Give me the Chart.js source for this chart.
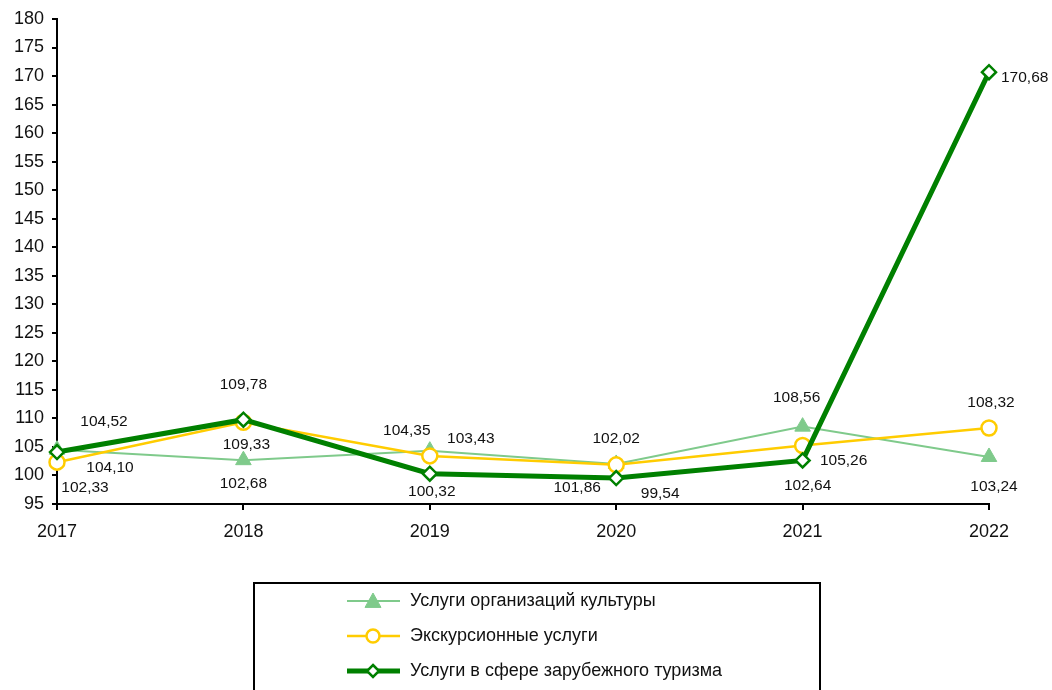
<!DOCTYPE html>
<html>
<head>
<meta charset="utf-8">
<script src="https://cdn.jsdelivr.net/npm/chart.js"></script>
<style>
  html, body { margin: 0; padding: 0; background: #fff; }
  #wrap { width: 1052px; height: 690px; position: relative; }
</style>
</head>
<body>
<div id="wrap"><canvas id="myChart"></canvas></div>
<script>
const years = ["2017", "2018", "2019", "2020", "2021", "2022"];
const cultureValues = [104.52, 102.68, 104.35, 102.02, 108.56, 103.24];
const excursionValues = [102.33, 109.33, 103.43, 101.86, 105.26, 108.32];
const abroadValues = [104.10, 109.78, 100.32, 99.54, 102.64, 170.68];
const seriesNames = [
    "Услуги организаций культуры",
    "Экскурсионные услуги",
    "Услуги в сфере зарубежного туризма"
];

// label offsets from the point, px
const labelShift = [
    [[47, -28], [0, 24], [-23, -20], [0, -25], [-6, -29], [5, 30]],
    [[28, 26], [3, 22], [41, -17], [-39, 23], [41, 15], [2, -25]],
    [[53, 16], [0, -35], [2, 18], [44, 16], [5, 25], [12, 6]]
];

const fmt = v => v.toFixed(2).replace(".", ",");
const FONT = "'Liberation Sans', Arial, sans-serif";

const valueLabels = {
    id: "valueLabels",
    afterDatasetsDraw(chart) {
        const ctx = chart.ctx;
        ctx.save();
        ctx.font = "15.5px " + FONT;
        ctx.fillStyle = "#111";
        ctx.textBaseline = "middle";
        chart.data.datasets.forEach((ds, d) => {
            chart.getDatasetMeta(d).data.forEach((pt, i) => {
                const sh = labelShift[d][i];
                ctx.textAlign = (d === 2 && i === 5) ? "left" : "center";
                ctx.fillText(fmt(ds.data[i]), pt.x + sh[0], pt.y + sh[1]);
            });
        });
        ctx.restore();
    }
};

function drawMarker(ctx, style, x, y, r) {
    if (style === "circle") {
        ctx.arc(x, y, r, 0, Math.PI * 2);
    } else if (style === "triangle") {
        ctx.moveTo(x, y - r);
        ctx.lineTo(x + r, y + r * 0.8);
        ctx.lineTo(x - r, y + r * 0.8);
        ctx.closePath();
    } else {
        ctx.moveTo(x, y - r);
        ctx.lineTo(x + r, y);
        ctx.lineTo(x, y + r);
        ctx.lineTo(x - r, y);
        ctx.closePath();
    }
}

const boxLegend = {
    id: "boxLegend",
    afterDraw(chart) {
        const ctx = chart.ctx;
        ctx.save();
        ctx.strokeStyle = "#000";
        ctx.lineWidth = 2;
        ctx.strokeRect(254, 583, 566, 120);
        ctx.font = "18px " + FONT;
        ctx.textBaseline = "middle";
        ctx.textAlign = "left";
        chart.data.datasets.forEach((ds, d) => {
            const y = 601 + d * 35;
            ctx.strokeStyle = ds.borderColor;
            ctx.lineWidth = ds.borderWidth;
            ctx.beginPath();
            ctx.moveTo(347, y);
            ctx.lineTo(400, y);
            ctx.stroke();
            ctx.fillStyle = ds.pointBackgroundColor;
            ctx.strokeStyle = ds.pointBorderColor;
            ctx.lineWidth = ds.pointBorderWidth;
            ctx.beginPath();
            drawMarker(ctx, ds.pointStyle, 373, y, ds.pointRadius - 1);
            ctx.fill();
            ctx.stroke();
            ctx.fillStyle = "#111";
            ctx.fillText(seriesNames[d], 410, y);
        });
        ctx.restore();
    }
};

const ctx = document.getElementById("myChart");
new Chart(ctx, {
    type: "line",
    data: {
        labels: years,
        datasets: [{
            label: seriesNames[0],
            data: cultureValues,
            borderColor: "#7fca8b",
            backgroundColor: "#7fca8b",
            borderWidth: 2,
            pointStyle: "triangle",
            pointRadius: 9,
            pointBackgroundColor: "#7fca8b",
            pointBorderColor: "#7fca8b",
            pointBorderWidth: 1,
            order: 3
        }, {
            label: seriesNames[1],
            data: excursionValues,
            borderColor: "#ffcc00",
            backgroundColor: "#ffcc00",
            borderWidth: 2.5,
            pointStyle: "circle",
            pointRadius: 7.5,
            pointBackgroundColor: "#fff",
            pointBorderColor: "#ffcc00",
            pointBorderWidth: 2.5,
            order: 2
        }, {
            label: seriesNames[2],
            data: abroadValues,
            borderColor: "#008000",
            backgroundColor: "#008000",
            borderWidth: 5,
            pointStyle: "rectRot",
            pointRadius: 7,
            pointBackgroundColor: "#fff",
            pointBorderColor: "#008000",
            pointBorderWidth: 2.5,
            order: 1
        }]
    },
    options: {
        responsive: true,
        maintainAspectRatio: false,
        animation: false,
        layout: { padding: { left: 0, right: 63, top: 19, bottom: 0 } },
        plugins: {
            legend: { display: false },
            tooltip: { enabled: false }
        },
        scales: {
            x: {
                offset: false,
                grid: { drawOnChartArea: false, drawTicks: true, tickLength: 6, color: "#000", lineWidth: 2 },
                border: { display: true, color: "#000", width: 2 },
                ticks: { color: "#111", padding: 11, maxRotation: 0,
                    font: { family: FONT, size: 18 } },
                afterFit(scale) { scale.height = 186; }
            },
            y: {
                min: 95,
                max: 180,
                grid: { drawOnChartArea: false, drawTicks: true, tickLength: 5, color: "#000", lineWidth: 2 },
                border: { display: true, color: "#000", width: 2 },
                ticks: { stepSize: 5, color: "#111", padding: 8,
                    font: { family: FONT, size: 18 } },
                afterFit(scale) { scale.width = 57; }
            }
        }
    },
    plugins: [valueLabels, boxLegend]
});
</script>
</body>
</html>
